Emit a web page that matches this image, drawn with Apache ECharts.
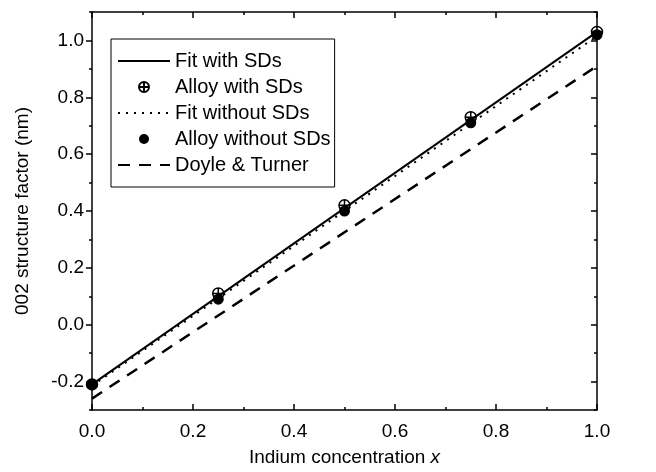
<!DOCTYPE html>
<html>
<head>
<meta charset="utf-8">
<script src="https://cdn.jsdelivr.net/npm/echarts@6/dist/echarts.min.js"></script>
<style>
  html, body { margin: 0; padding: 0; background: #fff; }
  #chart { width: 656px; height: 472px; }
</style>
</head>
<body>
<div id="chart"></div>
<script>
// 数据
var xFit = [0, 1];
var fitWith = [-0.21, 1.03];
var fitWithout = [-0.215, 1.015];
var doyleTurner = [-0.26, 0.91];

var xAlloy = [0, 0.25, 0.5, 0.75, 1.0];
var alloyWith = [-0.21, 0.11, 0.42, 0.73, 1.03];
var alloyWithout = [-0.21, 0.09, 0.40, 0.71, 1.02];

var yMajor = [-0.2, 0, 0.2, 0.4, 0.6, 0.8, 1.0];

function pairs(xs, ys) {
    return xs.map(function (x, i) { return [x, ys[i]]; });
}

var font = '"Liberation Sans", Arial, Helvetica, sans-serif';
var circlePlus = 'path://M10,0 A10,10 0 1 1 -10,0 A10,10 0 1 1 10,0 Z M-10,0 L10,0 M0,-10 L0,10';

var chart = echarts.init(document.getElementById('chart'));

var lineAxis = { show: true, onZero: false, lineStyle: { color: '#000', width: 1.5 } };
var tickStyle = { color: '#000', width: 1.5 };
var noSym = { opacity: 0 };

var option = {
    animation: false,
    textStyle: { fontFamily: font, color: '#000' },
    grid: { left: 92, right: 59, top: 12, bottom: 58 },
    legend: {
        orient: 'vertical',
        left: 111,
        top: 39,
        padding: [12, 4, 12, 6],
        itemWidth: 52,
        itemHeight: 10,
        itemGap: 6,
        borderColor: '#000',
        borderWidth: 1,
        textStyle: { fontSize: 20, lineHeight: 20, color: '#000', fontFamily: font },
        data: [
            { name: 'Fit with SDs', itemStyle: noSym },
            { name: 'Alloy with SDs' },
            { name: 'Fit without SDs', itemStyle: noSym },
            { name: 'Alloy without SDs' },
            { name: 'Doyle & Turner', itemStyle: noSym }
        ]
    },
    xAxis: [{
        type: 'value', min: 0, max: 1, interval: 0.2,
        name: 'Indium concentration {i|x}',
        nameLocation: 'middle', nameGap: 38,
        nameTextStyle: {
            fontSize: 19, color: '#000', fontFamily: font,
            rich: { i: { fontSize: 19, fontStyle: 'italic', color: '#000', fontFamily: font } }
        },
        axisLine: lineAxis,
        axisTick: { inside: true, length: 6, lineStyle: tickStyle },
        minorTick: { show: true, splitNumber: 2, length: 3, lineStyle: tickStyle },
        axisLabel: { fontSize: 19, color: '#000', margin: 12, formatter: function (v) { return v.toFixed(1); } },
        splitLine: { show: false }
    }, {
        type: 'value', min: 0, max: 1, interval: 0.2, position: 'top',
        axisLine: lineAxis,
        axisTick: { inside: true, length: 6, lineStyle: tickStyle },
        minorTick: { show: true, splitNumber: 2, length: 3, lineStyle: tickStyle },
        axisLabel: { show: false },
        splitLine: { show: false }
    }],
    yAxis: [{
        type: 'value', min: -0.3, max: 1.1,
        name: '002 structure factor (nm)',
        nameLocation: 'middle', nameGap: 60,
        nameTextStyle: { fontSize: 19, color: '#000', fontFamily: font },
        axisLine: lineAxis,
        axisTick: { customValues: yMajor, length: 6, lineStyle: tickStyle },
        axisLabel: { customValues: yMajor, fontSize: 19, color: '#000', margin: 8, formatter: function (v) { return v.toFixed(1); } },
        splitLine: { show: false }
    }, {
        type: 'value', min: -0.3, max: 1.1, interval: 0.1, position: 'left',
        axisLine: { show: false, onZero: false },
        axisTick: { length: 3, lineStyle: tickStyle },
        axisLabel: { show: false },
        splitLine: { show: false }
    }, {
        type: 'value', min: -0.3, max: 1.1, position: 'right',
        axisLine: lineAxis,
        axisTick: { customValues: yMajor, inside: true, length: 6, lineStyle: tickStyle },
        axisLabel: { show: false },
        splitLine: { show: false }
    }, {
        type: 'value', min: -0.3, max: 1.1, interval: 0.1, position: 'right',
        axisLine: { show: false, onZero: false },
        axisTick: { inside: true, length: 3, lineStyle: tickStyle },
        axisLabel: { show: false },
        splitLine: { show: false }
    }],
    series: [{
        name: 'Fit with SDs',
        type: 'line',
        data: pairs(xFit, fitWith),
        showSymbol: false, symbol: 'none',
        lineStyle: { color: '#000', width: 2, type: 'solid' },
        itemStyle: { color: '#000' }
    }, {
        name: 'Fit without SDs',
        type: 'line',
        data: pairs(xFit, fitWithout),
        showSymbol: false, symbol: 'none',
        lineStyle: { color: '#000', width: 2, type: [2, 6] },
        itemStyle: { color: '#000' }
    }, {
        name: 'Doyle & Turner',
        type: 'line',
        data: pairs(xFit, doyleTurner),
        showSymbol: false, symbol: 'none',
        lineStyle: { color: '#000', width: 2.5, type: [12, 9] },
        itemStyle: { color: '#000' }
    }, {
        name: 'Alloy with SDs',
        type: 'scatter',
        data: pairs(xAlloy, alloyWith),
        symbol: circlePlus,
        symbolSize: 11,
        itemStyle: { color: '#fff', borderColor: '#000', borderWidth: 1.5, opacity: 1 }
    }, {
        name: 'Alloy without SDs',
        type: 'scatter',
        data: pairs(xAlloy, alloyWithout),
        symbol: 'circle',
        symbolSize: 11,
        itemStyle: { color: '#000', opacity: 1 }
    }]
};

chart.setOption(option);
</script>
</body>
</html>
